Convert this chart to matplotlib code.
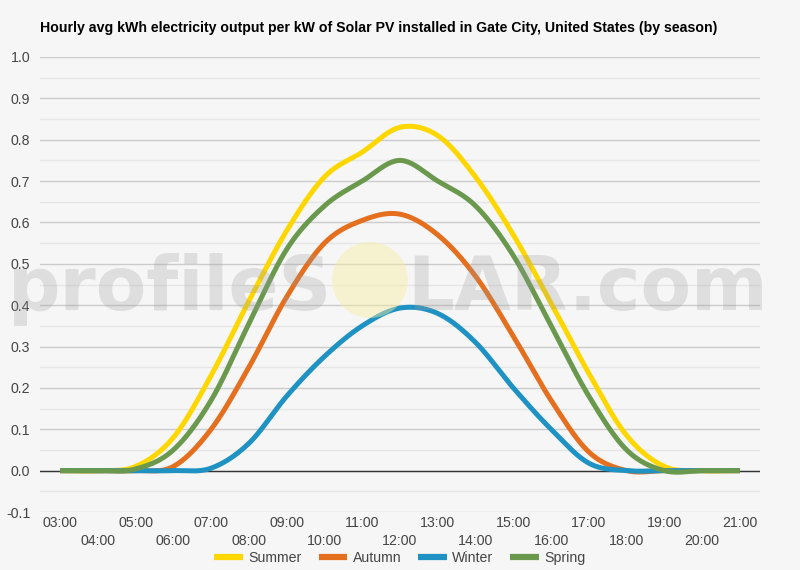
import numpy as np
import matplotlib
matplotlib.use("Agg")
import matplotlib.pyplot as plt
import matplotlib.transforms as mtrans
from matplotlib.patches import Circle

# ---------------- data ----------------
hours = list(range(3, 22))
hour_labels = [f"{h:02d}:00" for h in hours]
series_names = ["Summer", "Autumn", "Winter", "Spring"]
summer = [0, 0, 0.01, 0.08, 0.23, 0.41, 0.58, 0.71, 0.77, 0.83, 0.81, 0.71, 0.57, 0.405, 0.235, 0.085, 0.01, 0, 0]
autumn = [0, 0, 0, 0.01, 0.10, 0.25, 0.42, 0.55, 0.605, 0.62, 0.57, 0.47, 0.325, 0.17, 0.045, 0, 0, 0, 0]
winter = [0, 0, 0, 0, 0.006, 0.066, 0.18, 0.276, 0.35, 0.393, 0.38, 0.31, 0.20, 0.10, 0.018, 0, 0, 0, 0]
spring = [0, 0, 0.004, 0.05, 0.17, 0.355, 0.535, 0.64, 0.70, 0.75, 0.70, 0.64, 0.52, 0.35, 0.18, 0.05, 0, 0, 0]
colors = ["#FFD700", "#E46F1E", "#1F92C4", "#6A994E"]
title = "Hourly avg kWh electricity output per kW of Solar PV installed in Gate City, United States (by season)"

BG = "#f6f6f6"
TXT = "#444444"
FS = 10.2


def catmull(xs, ys, steps=40):
    xs = np.asarray(xs, float)
    ys = np.asarray(ys, float)
    n = len(xs)
    ox, oy = [], []
    t = np.linspace(0, 1, steps, endpoint=False)
    h00 = 2 * t**3 - 3 * t**2 + 1
    h10 = t**3 - 2 * t**2 + t
    h01 = -2 * t**3 + 3 * t**2
    h11 = t**3 - t**2
    for i in range(n - 1):
        y0 = ys[i - 1] if i > 0 else ys[i]
        y3 = ys[i + 2] if i + 2 < n else ys[i + 1]
        m1 = (ys[i + 1] - y0) / 2
        m2 = (y3 - ys[i]) / 2
        ox.append(xs[i] + t * (xs[i + 1] - xs[i]))
        oy.append(h00 * ys[i] + h10 * m1 + h01 * ys[i + 1] + h11 * m2)
    ox.append([xs[-1]])
    oy.append([ys[-1]])
    return np.concatenate(ox), np.concatenate(oy)


plt.rcParams["font.family"] = ["Liberation Sans", "DejaVu Sans"]
fig = plt.figure(figsize=(8, 5.7), dpi=100, facecolor=BG)
ax = fig.add_axes([40 / 800, 1 - 512 / 570, 720 / 800, (512 - 57) / 570])
ax.set_facecolor(BG)

pad = 20 / (680 / 18)
ax.set_xlim(3 - pad, 21 + pad)
ax.set_ylim(-0.1, 1.0)

# grid
for v in np.arange(-0.1, 1.0001, 0.1):
    ax.axhline(v, color="#cccccc", lw=1.0, zorder=0)
for v in np.arange(-0.05, 1.0, 0.1):
    ax.axhline(v, color="#e6e6e6", lw=1.0, zorder=0)
ax.axhline(0, color="#333333", lw=1.0, zorder=1)

for name, vals, c in zip(series_names, [summer, autumn, winter, spring], colors):
    sx, sy = catmull(hours, vals)
    ax.plot(sx, sy, color=c, lw=3.6, solid_capstyle="butt", zorder=3, label=name)

for s in ax.spines.values():
    s.set_visible(False)
ax.tick_params(length=0)
yt = np.round(np.arange(-0.1, 1.0001, 0.1), 1)
ax.set_yticks(yt)
ax.set_yticklabels([f"{v:.1f}" for v in yt], fontsize=FS, color=TXT)
ax.tick_params(axis="y", pad=7)
ax.set_xticks([])
xtr = mtrans.blended_transform_factory(ax.transData, fig.transFigure)
for i, (h, lab) in enumerate(zip(hours, hour_labels)):
    ypix = 523 if i % 2 == 0 else 541
    ax.text(h, 1 - ypix / 570, lab, transform=xtr, ha="center", va="center",
            fontsize=FS, color=TXT)

# watermark
fig.text(332 / 800, 1 - 310 / 570, "profileS", ha="right", va="baseline",
         fontsize=53, fontweight="bold", family="DejaVu Sans", color="#9a9a9a", alpha=0.26, zorder=10)
fig.text(407 / 800, 1 - 310 / 570, "LAR.com", ha="left", va="baseline",
         fontsize=53, fontweight="bold", family="DejaVu Sans", color="#9a9a9a", alpha=0.26, zorder=10)
circ = Circle((370, 570 - 280), 38, transform=None, facecolor="#f7efa0", edgecolor="none",
              alpha=0.45, zorder=9)
fig.patches.append(circ)

fig.text(40 / 800, 1 - 28 / 570, title, ha="left", va="center", fontsize=FS,
         fontweight="bold", color="#000000")

leg = fig.legend(loc="center", bbox_to_anchor=(0.5, 1 - 558 / 570), ncol=4, frameon=False,
                 fontsize=FS, handlelength=2.0, handletextpad=0.4, columnspacing=1.2,
                 labelcolor=TXT)
for l in leg.get_lines():
    l.set_linewidth(4.5)

fig.savefig("out.png", dpi=100, facecolor=BG)
